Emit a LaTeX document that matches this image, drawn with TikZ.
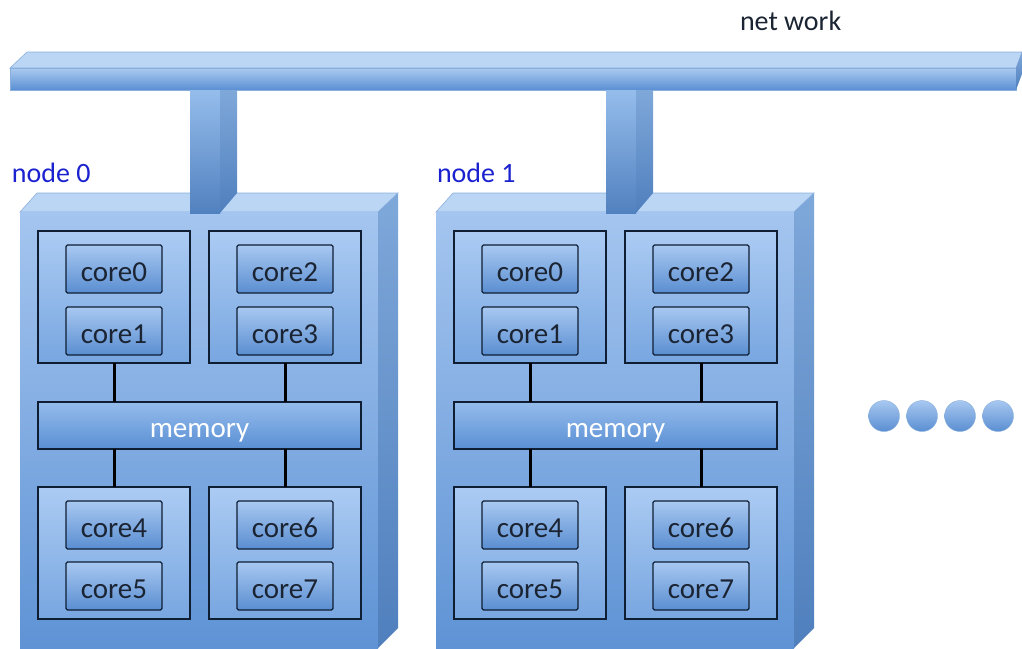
\documentclass[tikz,border=0pt]{standalone}
\usepackage{fontspec}
\setmainfont{Carlito}
\definecolor{frontT}{HTML}{A4C5EF}
\definecolor{frontB}{HTML}{5F93D5}
\definecolor{topface}{HTML}{BBD5F4}
\definecolor{sideT}{HTML}{7FA8DA}
\definecolor{sideB}{HTML}{4F7FBD}
\definecolor{edgec}{HTML}{8AAFDD}
\definecolor{grpT}{HTML}{ABCBF3}
\definecolor{grpB}{HTML}{78A6E0}
\definecolor{coreT}{HTML}{A8C8F1}
\definecolor{coreB}{HTML}{5A8ED1}
\definecolor{memT}{HTML}{95BDEC}
\definecolor{memB}{HTML}{5A8FD4}
\definecolor{navy}{HTML}{0F1E33}
\definecolor{txt}{HTML}{1B2433}
\definecolor{lblue}{HTML}{1A22D0}
\begin{document}
\begin{tikzpicture}[x=1pt,y=-1pt,
  every node/.style={inner sep=0pt,outer sep=0pt},
  grp/.style={draw=navy,line width=1.6pt,top color=grpT,bottom color=grpB,anchor=north west,minimum width=152pt,minimum height=132pt},
  corebox/.style={draw=navy,line width=1.1pt,rounded corners=1.5pt,top color=coreT,bottom color=coreB,anchor=north west,minimum width=96pt,minimum height=48pt,font=\fontsize{29}{32}\selectfont,text=txt,text height=24pt,text depth=0pt},
  membox/.style={draw=navy,line width=1.6pt,top color=memT,bottom color=memB,anchor=north west,minimum width=323pt,minimum height=47pt,font=\fontsize{29}{32}\selectfont,text=white,text height=23pt,text depth=0pt},
  wire/.style={line width=3pt,black},
  lbl/.style={font=\fontsize{28}{30}\selectfont,text=lblue,anchor=west},
  dotc/.style={circle,minimum size=31pt,top color=coreT,bottom color=coreB,draw=edgec,line width=0.4pt}
]
\useasboundingbox (0,0) rectangle (1022,648);
% network bar
\node[font=\fontsize{28}{30}\selectfont,text=txt,anchor=west] (net) at (740,21) {net work};
\fill[topface,draw=edgec,line width=0.6pt] (10,68) -- (27,52) -- (1022,52) -- (1016,68) -- cycle;
\shade[top color=memT!80!white,bottom color=memB,draw=edgec,line width=0.6pt] (10,68) rectangle (1016,90);
\shade[top color=sideT,bottom color=sideB] (1016,68) -- (1022,52) -- (1022,74) -- (1016,90) -- cycle;
\foreach \k/\dx/\lx in {0/0/-8,1/416/1}{
\begin{scope}[xshift=\dx pt]
  % box faces
  \fill[topface,draw=edgec,line width=0.6pt] (20,212) -- (37,193) -- (398,193) -- (378,212) -- cycle;
  \shade[top color=frontT,bottom color=frontB] (20,212) rectangle (378,648);
  \shade[top color=sideT,bottom color=sideB] (378,212) -- (398,193) -- (398,628) -- (378,648) -- cycle;
  % pillar
  \shade[top color=memT,bottom color=memB!90!black] (190,90) rectangle (220,213);
  \shade[top color=sideT,bottom color=sideB] (220,90) -- (237,90) -- (237,193) -- (220,213) -- cycle;
  % label
  \node[lbl] (lab\k) at ([xshift=20pt]\lx,173) {node \k};
  % groups
  \node[grp] (ga\k) at (38,231) {};
  \node[grp] (gb\k) at (209,231) {};
  \node[grp] (gc\k) at (38,487) {};
  \node[grp] (gd\k) at (209,487) {};
  \node[membox] (mem\k) at (38,402) {memory};
  \node[corebox] (c0\k) at (66,245) {core0};
  \node[corebox] (c1\k) at (66,307) {core1};
  \node[corebox] (c2\k) at (237,245) {core2};
  \node[corebox] (c3\k) at (237,307) {core3};
  \node[corebox] (c4\k) at (66,501) {core4};
  \node[corebox] (c5\k) at (66,562) {core5};
  \node[corebox] (c6\k) at (237,501) {core6};
  \node[corebox] (c7\k) at (237,562) {core7};
  \draw[wire] (ga\k.south) -- (ga\k.south |- mem\k.north);
  \draw[wire] (gb\k.south) -- (gb\k.south |- mem\k.north);
  \draw[wire] (gc\k.north) -- (gc\k.north |- mem\k.south);
  \draw[wire] (gd\k.north) -- (gd\k.north |- mem\k.south);
\end{scope}
}
% dots
\node[dotc] (d1) at (884,416) {};
\node[dotc] (d2) at (922,416) {};
\node[dotc] (d3) at (960,416) {};
\node[dotc] (d4) at (998,416) {};
\end{tikzpicture}
\end{document}
